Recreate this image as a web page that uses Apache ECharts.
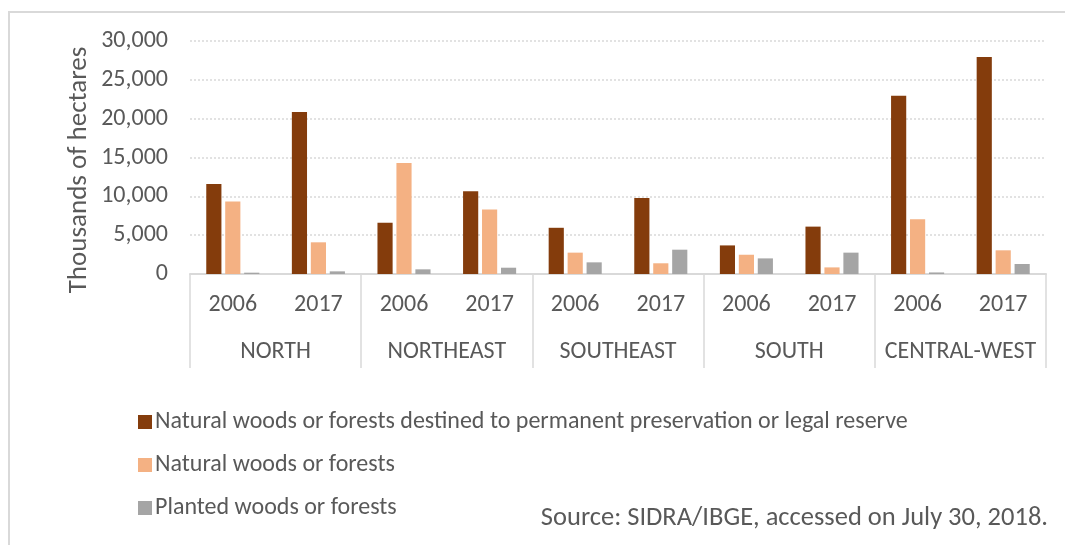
<!DOCTYPE html>
<html>
<head>
<meta charset="utf-8">
<script src="https://cdn.jsdelivr.net/npm/echarts@6/dist/echarts.min.js"></script>
<style>
html,body{margin:0;padding:0;background:#fff;}
#chart{width:1065px;height:545px;}
</style>
</head>
<body>
<div id="chart"></div>
<script>
const years = ['2006','2017','2006','2017','2006','2017','2006','2017','2006','2017'];
const regions = ['NORTH','NORTHEAST','SOUTHEAST','SOUTH','CENTRAL-WEST'];
const seriesNames = [
  'Natural woods or forests destined to permanent preservation or legal reserve',
  'Natural woods or forests',
  'Planted woods or forests'
];
const preserved = [11600, 20850, 6600, 10650, 5950, 9800, 3680, 6100, 22950, 27950];
const naturalW  = [9350, 4080, 14300, 8320, 2750, 1380, 2480, 850, 7050, 3050];
const planted   = [170, 340, 600, 810, 1500, 3130, 2010, 2750, 200, 1290];
const yTicks = { min: 0, max: 30000, interval: 5000 };
const sourceText = 'Source: SIDRA/IBGE, accessed on July 30, 2018.';
const yTitle = 'Thousands of hectares';

const FONT = 'Carlito, "Liberation Sans Narrow", Lato, sans-serif';
const TXT = '#595959';
const colors = ['#843C0C', '#F4B183', '#A5A5A5'];

const chart = echarts.init(document.getElementById('chart'), null, {renderer: 'canvas'});
const mk = (name, data, i) => ({
  name, type: 'bar', data, xAxisIndex: 0, yAxisIndex: 0,
  itemStyle: { color: colors[i] },
  barGap: '25%', barCategoryGap: '38%'
});
chart.setOption({
  animation: false,
  textStyle: { fontFamily: FONT, color: TXT },
  grid: { left: 190, right: 19, top: 41, bottom: 271, containLabel: false },
  legend: {
    orient: 'vertical', left: 133, top: 405,
    itemWidth: 14, itemHeight: 14, itemGap: 19,
    icon: 'rect',
    textStyle: { fontFamily: FONT, fontSize: 24, color: TXT, padding: [0,0,0,-2] },
    data: seriesNames
  },
  xAxis: [
    {
      type: 'category', data: years, position: 'bottom',
      axisLine: { show: true, lineStyle: { color: '#d9d9d9', width: 2 } },
      axisTick: { show: false },
      axisLabel: { margin: 19, fontSize: 24, color: TXT, fontFamily: FONT, interval: 0 }
    },
    {
      type: 'category', data: regions, position: 'bottom',
      axisLine: { show: false },
      axisTick: { show: true, length: 94, interval: 0, lineStyle: { color: '#d9d9d9', width: 1.5 } },
      axisLabel: { margin: 66, fontSize: 24, color: TXT, fontFamily: FONT, interval: 0 }
    }
  ],
  yAxis: {
    type: 'value', min: yTicks.min, max: yTicks.max, interval: yTicks.interval,
    axisLine: { show: false }, axisTick: { show: false },
    axisLabel: { margin: 22, fontSize: 24, color: TXT, fontFamily: FONT,
      formatter: v => v.toLocaleString('en-US') },
    splitLine: { lineStyle: { color: '#d9d9d9', type: [2, 2], width: 1.5 } }
  },
  graphic: [
    { type: 'rect', shape: { x: 9, y: 12, width: 1100, height: 600 },
      style: { fill: 'none', stroke: '#d9d9d9', lineWidth: 2 }, silent: true },
    { type: 'text', x: 79, y: 170, rotation: Math.PI / 2,
      style: { text: yTitle, font: '27px ' + FONT, fill: TXT, align: 'center', verticalAlign: 'middle' } },
    { type: 'text', right: 17, top: 505,
      style: { text: sourceText, font: '26.5px ' + FONT, fill: TXT } }
  ],
  series: [mk(seriesNames[0], preserved, 0), mk(seriesNames[1], naturalW, 1), mk(seriesNames[2], planted, 2)]
});
</script>
</body>
</html>
